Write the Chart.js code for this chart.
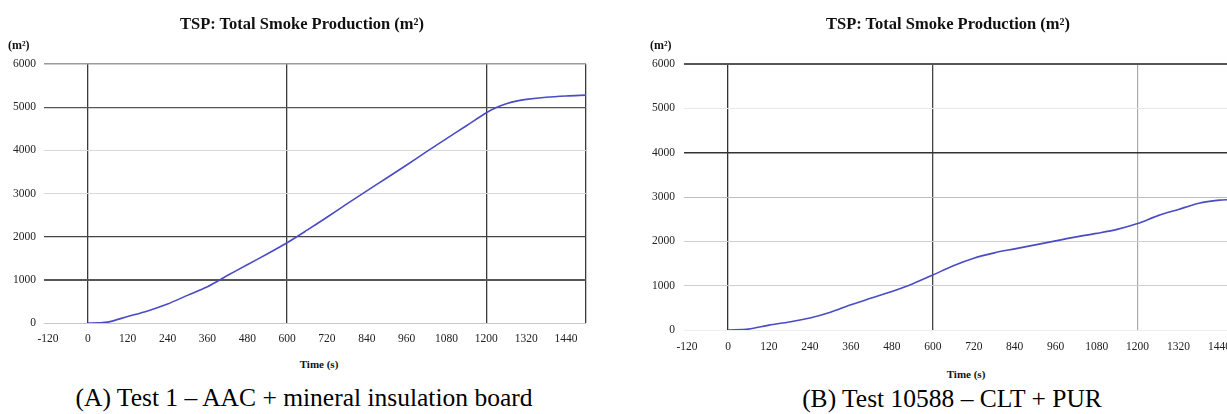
<!DOCTYPE html>
<html><head><meta charset="utf-8">
<script src="https://cdn.jsdelivr.net/npm/chart.js@4.4.1/dist/chart.umd.min.js"></script>
<style>
html,body{margin:0;padding:0;width:1227px;height:414px;overflow:hidden;background:#fff;font-family:"Liberation Serif","Times New Roman",serif;}
.abs{position:absolute;white-space:nowrap;color:#111;}
.title{font-weight:bold;font-size:16.5px;transform:translate(-50%,-50%);}
.unit{font-weight:bold;font-size:12px;transform:translate(0,-50%);}
.xt{font-weight:bold;font-size:11px;transform:translate(-50%,-50%);}
.cap{font-size:25.5px;transform:translate(-50%,-50%);color:#000;}
#wa{position:absolute;left:0;top:0;width:600px;height:345px;}
#wb{position:absolute;left:620px;top:0;width:640px;height:352px;}
</style></head><body>
<div id="wa"><canvas id="ca"></canvas></div>
<div id="wb"><canvas id="cb"></canvas></div>
<div class="abs title" style="left:302px;top:24px">TSP: Total Smoke Production (m²)</div>
<div class="abs title" style="left:948px;top:24px">TSP: Total Smoke Production (m²)</div>
<div class="abs unit" style="left:8px;top:45px">(m²)</div>
<div class="abs unit" style="left:650px;top:45px">(m²)</div>
<div class="abs xt" style="left:319px;top:364px">Time (s)</div>
<div class="abs xt" style="left:966px;top:374px">Time (s)</div>
<div class="abs cap" style="left:304px;top:398px">(A) Test 1 – AAC + mineral insulation board</div>
<div class="abs cap" style="left:952px;top:399px">(B) Test 10588 – CLT + PUR</div>
<script>
// ---- data ----
const xTickLabels = [-120,0,120,240,360,480,600,720,840,960,1080,1200,1320,1440];
const yTickLabels = [0,1000,2000,3000,4000,5000,6000];

const timeA = [0,30,60,120,180,240,300,360,420,480,540,600,660,720,780,840,900,960,1020,1080,1140,1200,1230,1260,1290,1320,1380,1440,1500];
const tspA  = [0,5,20,150,280,440,640,840,1100,1350,1600,1860,2150,2450,2760,3060,3360,3660,3970,4270,4570,4870,4990,5080,5140,5180,5230,5260,5280];

const timeB = [0,60,120,180,240,300,360,420,480,540,600,660,720,780,840,900,960,1020,1080,1140,1200,1260,1320,1380,1440,1470];
const tspB  = [0,20,110,180,270,400,570,720,870,1040,1240,1450,1620,1740,1830,1920,2010,2100,2180,2270,2400,2580,2720,2860,2930,2940];

const FONT = "'Liberation Serif','Times New Roman',serif";
const lineColor = '#4b4bc4';

function makeChart(id, times, vals, cfg){
  const pts = times.map((t,i)=>({x:t,y:vals[i]}));
  return new Chart(document.getElementById(id), {
    type:'line',
    data:{datasets:[{data:pts,borderColor:lineColor,borderWidth:1.6,pointRadius:0,tension:0.3,fill:false}]},
    options:{
      responsive:true, maintainAspectRatio:false, animation:false,
      layout:{padding:{top:64,right:cfg.padRight,left:0,bottom:0}},
      plugins:{legend:{display:false},tooltip:{enabled:false},title:{display:false}},
      scales:{
        x:{type:'linear',min:cfg.xmin,max:1500,
          afterBuildTicks:s=>{s.ticks=xTickLabels.concat([1500]).map(v=>({value:v}));},
          afterFit:s=>{s.height=cfg.xh;},
          border:{display:false},
          grid:{drawTicks:false,
            color:c=>cfg.vcol[c.tick.value]||'rgba(0,0,0,0)',
            lineWidth:c=>cfg.vw[c.tick.value]||1},
          ticks:{padding:cfg.xpad,color:'#222',font:{family:FONT,size:11.5},maxRotation:0,autoSkip:false,
            callback:v=>xTickLabels.includes(v)?String(v):''}
        },
        y:{type:'linear',min:0,max:6000,
          afterBuildTicks:s=>{s.ticks=yTickLabels.map(v=>({value:v}));},
          afterFit:s=>{s.width=cfg.yw;},
          border:{display:false},
          grid:{drawTicks:false,
            color:c=>cfg.hcol[c.tick.value]||'rgba(0,0,0,0)',
            lineWidth:c=>cfg.hw[c.tick.value]||1},
          ticks:{padding:cfg.ypad,color:'#222',font:{family:FONT,size:11.5},callback:v=>String(v)}
        }
      }
    }
  });
}

makeChart('ca', timeA, tspA, {
  xmin:-132, padRight:14, xh:22, yw:44, xpad:9, ypad:8,
  vcol:{0:'#3a3a3a',600:'#3a3a3a',1200:'#3a3a3a',1500:'#3a3a3a'},
  vw:{0:1.3,600:1.3,1200:1.3,1500:1.3},
  hcol:{0:'#c8c8c8',1000:'#555',2000:'#444',3000:'#d8d8d8',4000:'#d8d8d8',5000:'#555',6000:'#9a9a9a'},
  hw:{0:1,1000:2,2000:1.2,3000:1,4000:1,5000:1.2,6000:1.5}
});
makeChart('cb', timeB, tspB, {
  xmin:-129, padRight:20, xh:22, yw:64, xpad:10, ypad:9,
  vcol:{0:'#333',600:'#444',1200:'#aaa'},
  vw:{0:1.3,600:1.3,1200:1.2},
  hcol:{0:'#eeeeee',1000:'#cfcfcf',2000:'#cfcfcf',3000:'#bdbdbd',4000:'#333',5000:'#e8e8e8',6000:'#555'},
  hw:{0:1,1000:1,2000:1,3000:1,4000:1.5,5000:1,6000:2}
});
</script>
</body></html>
